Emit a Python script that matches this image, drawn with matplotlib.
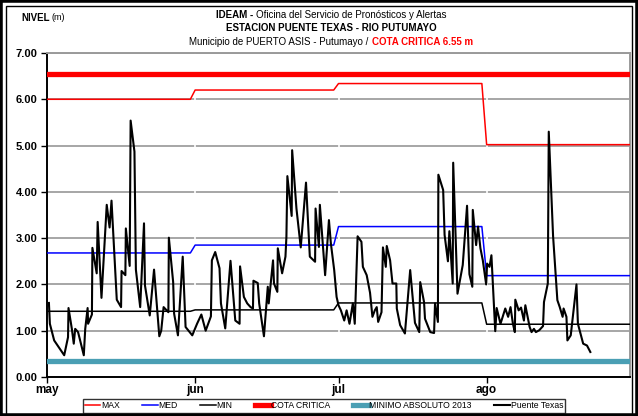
import matplotlib
matplotlib.use("Agg")
import matplotlib.pyplot as plt
import numpy as np
from matplotlib import font_manager
from matplotlib.lines import Line2D
from matplotlib.patches import Rectangle

# Puente Texas readings: days elapsed since 1 May, level in metres
obs_day = [0.4, 0.6, 1.5, 3.6, 4.4, 4.5, 5.2, 5.6, 5.9, 6.5, 7.3, 7.7, 8.0, 8.5, 8.6,
           9.4, 9.5, 10.4, 10.6, 11.4, 12.5, 13.1, 13.5, 14.6, 15.5, 15.6, 16.4, 16.5,
           17.3, 17.5, 18.3, 18.6, 19.5, 20.3, 20.5, 21.5, 22.4, 23.5, 23.9, 24.4, 25.4,
           25.5, 26.4, 26.6, 27.4, 28.4, 29.0, 30.4, 31.4, 32.3, 33.2, 34.3, 34.5, 35.2,
           36.1, 36.4, 37.3, 38.4, 38.9, 39.4, 40.3, 40.4, 41.2, 41.9, 42.6, 43.1, 43.2,
           44.1, 44.4, 45.4, 46.2, 46.4, 47.3, 47.5, 48.2, 48.3, 49.2, 49.9, 50.1, 50.3,
           51.2, 51.3, 52.2, 53.1, 54.2, 55.0, 56.1, 56.2, 56.9, 57.1, 58.2, 59.0, 59.4,
           60.1, 60.6, 61.0, 61.5, 62.2, 62.7, 63.3, 64.0, 64.4, 65.0, 65.8, 66.1, 66.9,
           67.6, 68.1, 68.6, 69.0, 69.3, 70.0, 70.3, 70.9, 71.1, 71.8, 72.3, 73.1, 73.2,
           73.9, 74.9, 76.0, 77.0, 77.9, 78.1, 78.9, 79.1, 80.2, 81.0, 81.2, 81.8, 81.9,
           82.9, 83.2, 83.9, 84.2, 84.9, 85.0, 85.9, 87.0, 87.9, 88.4, 89.0, 89.1, 89.8,
           90.2, 90.7, 91.2, 91.9, 92.1, 92.6, 93.0, 93.8, 94.1, 94.9, 95.9, 96.5, 97.0,
           97.5, 97.9, 98.0, 98.7, 99.2, 99.8, 100.1, 101.0, 101.4, 101.9, 102.3, 103.0,
           103.8, 104.0, 104.8, 105.0, 105.9, 106.8, 107.3, 107.9, 108.1, 108.7, 108.9,
           109.6, 110.8, 111.1, 112.0, 112.2, 113.0, 113.7]
obs_level = [1.60, 1.15, 0.79, 0.47, 0.86, 1.49, 1.04, 0.72, 1.04, 0.97, 0.63, 0.47, 1.04,
             1.49, 1.15, 1.35, 2.79, 2.24, 3.35, 1.71, 3.72, 3.23, 3.81, 1.67, 1.51, 2.29,
             2.20, 3.21, 2.40, 5.54, 4.87, 2.32, 1.51, 3.32, 1.98, 1.33, 2.32, 0.88, 1.00,
             1.51, 1.40, 3.01, 2.05, 1.37, 0.90, 2.60, 1.08, 0.90, 1.15, 1.35, 1.00, 1.31,
             2.52, 2.70, 2.35, 1.59, 1.05, 2.51, 1.85, 1.22, 1.15, 2.39, 1.73, 1.59, 1.51,
             1.48, 2.08, 2.03, 1.59, 0.88, 1.95, 1.59, 2.52, 2.02, 1.84, 2.78, 2.24, 2.60,
             3.03, 4.34, 3.48, 4.90, 3.64, 2.80, 4.20, 2.60, 2.49, 3.64, 2.81, 3.72, 2.20,
             3.39, 2.89, 2.31, 1.73, 1.55, 1.44, 1.22, 1.44, 1.15, 1.59, 1.15, 3.04, 2.92,
             2.38, 2.20, 1.82, 1.30, 1.44, 1.51, 1.19, 1.40, 2.80, 2.38, 2.83, 2.52, 2.02,
             2.02, 1.48, 1.12, 0.94, 2.31, 1.17, 0.97, 2.05, 1.62, 1.26, 0.97, 0.95, 1.59,
             1.19, 4.37, 4.04, 3.07, 2.50, 3.15, 2.02, 4.63, 1.80, 2.42, 3.70, 2.22, 1.95,
             3.61, 2.85, 3.25, 2.78, 2.52, 2.00, 2.45, 2.38, 2.63, 0.99, 1.49, 1.15, 1.48,
             1.30, 1.51, 1.15, 0.97, 1.67, 1.44, 1.50, 1.22, 1.55, 1.08, 0.97, 1.04, 0.97,
             1.01, 1.10, 1.62, 2.02, 5.30, 3.05, 1.66, 1.51, 1.30, 1.48, 1.30, 0.79, 0.90,
             2.00, 1.15, 0.80, 0.72, 0.68, 0.54]

MONTHS = ["may", "jun", "jul", "ago"]
MONTH_LEN = [31, 30, 31, 31]
LEVEL_MAX = [6.00, 6.20, 6.34, 5.02]
LEVEL_MED = [2.68, 2.85, 3.25, 2.19]
LEVEL_MIN = [1.42, 1.45, 1.60, 1.14]
COTA_CRITICA = 6.55
MINIMO_2013 = 0.35

names = {f.name for f in font_manager.fontManager.ttflist}
FONT = "Liberation Sans Narrow" if "Liberation Sans Narrow" in names else "Liberation Sans"
plt.rcParams["font.family"] = FONT

TEAL = "#4a9fb4"

days = np.arange(sum(MONTH_LEN))
month_start = np.concatenate([[0], np.cumsum(MONTH_LEN)[:-1]])
daily_max = np.repeat(LEVEL_MAX, MONTH_LEN)
daily_med = np.repeat(LEVEL_MED, MONTH_LEN)
daily_min = np.repeat(LEVEL_MIN, MONTH_LEN)

fig = plt.figure(figsize=(6.38, 4.16), dpi=100)
ax = fig.add_axes([47 / 638, 39 / 416, 583 / 638, 324 / 416])

ax.plot(days, daily_max, color="#ff0000", lw=1.1, zorder=3)
ax.plot(days, daily_med, color="#0000ff", lw=1.1, zorder=3)
ax.plot(days, daily_min, color="black", lw=1.1, zorder=3)
ax.axhline(COTA_CRITICA, color="#ff0000", lw=3.8, zorder=3)
ax.axhline(MINIMO_2013, color=TEAL, lw=3.8, zorder=3)
ax.plot(obs_day, obs_level, color="black", lw=1.5, zorder=4)

ax.set_xlim(0, days[-1])
ax.set_ylim(0, 7)
ax.set_yticks(np.arange(0, 8))
ax.set_yticklabels([f"{v:.2f}" for v in range(8)], fontweight="bold", fontsize=8)
ax.set_xticks(month_start)
ax.set_xticklabels(MONTHS, fontweight="bold", fontsize=8.5)
ax.tick_params(axis="both", direction="out", length=4, width=1, color="black")
ax.tick_params(axis="y", pad=3)
ax.tick_params(axis="x", pad=1)

ax.set_axisbelow(True)
ax.yaxis.grid(True, color="#a6a6a6", lw=1.4)
for m in month_start[1:]:
    ax.axvline(m, color="white", lw=1.2, zorder=1)

for s in ("left", "bottom"):
    ax.spines[s].set_color("black")
    ax.spines[s].set_linewidth(1.4)
for s in ("top", "right"):
    ax.spines[s].set_color("#9a9a9a")
    ax.spines[s].set_linewidth(1.4)

# heading, built piece by piece so each run keeps its own weight/colour
renderer = fig.canvas.get_renderer()


def text_row(y, parts, size=7):
    widths = []
    for txt, weight, color in parts:
        t = fig.text(0, 0, txt, fontsize=size, fontweight=weight)
        widths.append(t.get_window_extent(renderer).width)
        t.remove()
    x = 331 - sum(widths) / 2
    for (txt, weight, color), w in zip(parts, widths):
        fig.text(x / 638, 1 - y / 416, txt, fontsize=size, fontweight=weight,
                 color=color, va="center", ha="left")
        x += w


text_row(15, [("IDEAM - ", "bold", "black"),
              ("Oficina del Servicio de Pronósticos y Alertas", "normal", "black")])
text_row(28, [("ESTACION PUENTE TEXAS - RIO PUTUMAYO", "bold", "black")])
text_row(42, [("Municipio de PUERTO ASIS - Putumayo / ", "normal", "black"),
              ("COTA CRITICA 6.55 m", "bold", "#ff0000")])

t = fig.text(21 / 638, 1 - 18 / 416, "NIVEL", fontsize=7, fontweight="bold", va="center")
w = t.get_window_extent(renderer).width
fig.text((21 + w + 2) / 638, 1 - 18 / 416, "(m)", fontsize=6.5, va="center")

handles = [
    Line2D([], [], color="#ff0000", lw=1.1),
    Line2D([], [], color="#0000ff", lw=1.1),
    Line2D([], [], color="black", lw=1.1),
    Line2D([], [], color="#ff0000", lw=3.8),
    Line2D([], [], color=TEAL, lw=3.8),
    Line2D([], [], color="black", lw=1.5),
]
labels = ["MAX", "MED", "MIN", "COTA CRITICA", "MINIMO ABSOLUTO 2013", "Puente Texas"]
leg = fig.legend(handles, labels, loc="center", bbox_to_anchor=(324 / 638, 1 - 406 / 416),
                 ncol=6, fontsize=6.2, frameon=True, fancybox=False, handlelength=1.8,
                 handletextpad=0.1, columnspacing=2.6, borderpad=0.25)
leg.get_frame().set_edgecolor("black")
leg.get_frame().set_linewidth(1.0)

# double frame round the whole chart
fig.patches.append(Rectangle((0, 0), 1, 1, transform=fig.transFigure, fill=False,
                             edgecolor="black", lw=4))
fig.patches.append(Rectangle((6 / 638, -0.01), 626 / 638, 1 - 6 / 416 + 0.01,
                             transform=fig.transFigure, fill=False, edgecolor="black",
                             lw=1))

fig.savefig("out.png", dpi=100)
